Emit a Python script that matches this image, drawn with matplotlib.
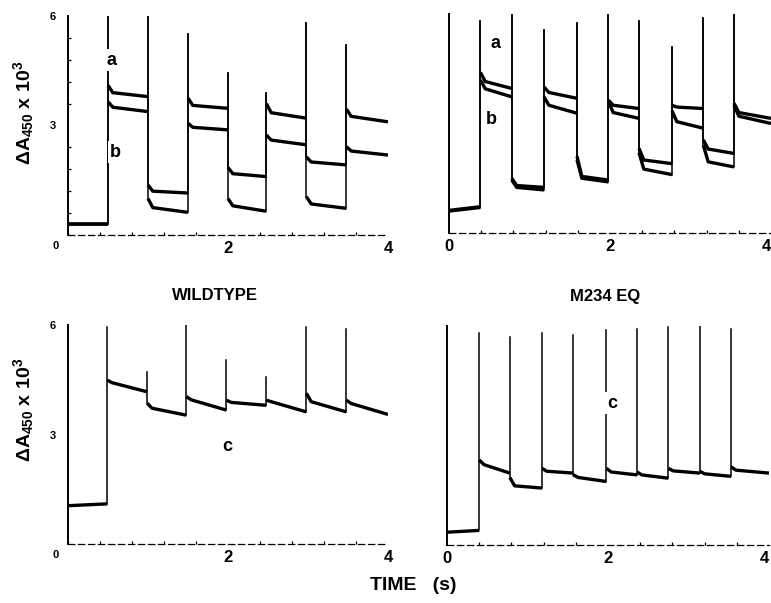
import numpy as np
import matplotlib
matplotlib.use("Agg")
import matplotlib.pyplot as plt
from matplotlib.ticker import MultipleLocator

plt.rcParams['font.family'] = ['Liberation Sans', 'DejaVu Sans']
plt.rcParams['font.weight'] = 'bold'
plt.rcParams['mathtext.fontset'] = 'custom'
plt.rcParams['mathtext.rm'] = 'Liberation Sans:bold'
plt.rcParams['mathtext.it'] = 'Liberation Sans:bold'
plt.rcParams['mathtext.bf'] = 'Liberation Sans:bold'

# ---- wildtype, traces a / b (top left) ----
wt_ab_switch = [0.50, 1.00, 1.50, 2.00, 2.48, 2.98, 3.48]
wt_ab_peak = [6.0, 6.0, 5.5, 4.45, 3.9, 5.8, 5.2]
wt_a_base = [0.30, 0.30]
wt_a_start = [4.10, 1.37, 3.75, 1.85, 3.60, 2.14, 3.45]
wt_a_knee = [3.90, 1.20, 3.55, 1.68, 3.35, 2.00, 3.25]
wt_a_end = [3.79, 1.15, 3.47, 1.60, 3.20, 1.92, 3.10]
wt_b_base = [0.30, 0.30]
wt_b_start = [3.65, 1.00, 3.06, 1.00, 2.74, 1.05, 2.42]
wt_b_knee = [3.50, 0.75, 2.95, 0.80, 2.60, 0.85, 2.30]
wt_b_end = [3.38, 0.62, 2.88, 0.65, 2.47, 0.73, 2.19]

# ---- M234 EQ, traces a / b (top right) ----
mu_ab_switch = [0.39, 0.78, 1.18, 1.59, 1.98, 2.36, 2.77, 3.16, 3.54]
mu_ab_peak = [5.8, 6.0, 5.55, 5.75, 6.0, 5.8, 5.1, 5.9, 6.0]
mu_a_base = [0.62, 0.72]
mu_a_start = [4.40, 1.50, 4.00, 2.10, 3.64, 2.32, 3.50, 2.55, 3.56]
mu_a_knee = [4.15, 1.30, 3.85, 1.55, 3.50, 2.00, 3.45, 2.30, 3.30]
mu_a_end = [3.96, 1.25, 3.69, 1.45, 3.41, 1.90, 3.41, 2.18, 3.14]
mu_b_base = [0.60, 0.70]
mu_b_start = [4.19, 1.45, 3.73, 2.00, 3.60, 2.20, 3.35, 2.40, 3.50]
mu_b_knee = [3.95, 1.25, 3.50, 1.50, 3.30, 1.75, 3.05, 1.95, 3.20]
mu_b_end = [3.73, 1.18, 3.28, 1.40, 3.14, 1.60, 2.87, 1.81, 3.00]

# ---- wildtype, trace c (bottom left) ----
wt_c_switch = [0.49, 0.99, 1.48, 1.98, 2.48, 2.98, 3.48]
wt_c_peak = [5.95, 4.72, 6.0, 5.04, 4.58, 5.95, 5.9]
wt_c_base = [1.05, 1.10]
wt_c_start = [4.49, 3.86, 4.04, 3.94, 3.94, 4.13, 3.94]
wt_c_knee = [4.42, 3.72, 3.95, 3.88, 3.90, 3.90, 3.85]
wt_c_end = [4.17, 3.53, 3.67, 3.80, 3.62, 3.62, 3.55]

# ---- M234 EQ, trace c (bottom right) ----
mu_c_switch = [0.40, 0.78, 1.18, 1.57, 1.98, 2.36, 2.75, 3.14, 3.53]
mu_c_peak = [5.8, 5.7, 5.8, 5.75, 5.9, 5.92, 5.96, 6.0, 5.92]
mu_c_base = [0.35, 0.40]
mu_c_start = [2.33, 1.85, 2.10, 1.92, 2.10, 2.00, 2.10, 2.02, 2.14]
mu_c_knee = [2.20, 1.62, 2.02, 1.85, 2.00, 1.92, 2.03, 1.95, 2.05]
mu_c_end = [1.97, 1.56, 1.97, 1.74, 1.92, 1.83, 1.97, 1.88, 1.97]

T_END = 4.0
KNEE_DT = 0.06


def draw_trace(ax, switch, peak, base, start, knee, end):
    # flat levels as thick segments, flash spikes as thin verticals
    ts = [0.0, switch[0], np.nan]
    vs = [base[0], base[1], np.nan]
    prev = base[1]
    for i, t0 in enumerate(switch):
        t1 = switch[i + 1] if i + 1 < len(switch) else T_END
        ts += [t0, t0 + KNEE_DT, t1, np.nan]
        vs += [start[i], knee[i], end[i], np.nan]
        ax.plot([t0, t0], [min(prev, start[i]), peak[i]], color='black', lw=1.1)
        prev = end[i]
    ax.plot(ts, vs, color='black', lw=2.4, solid_capstyle='butt')


def style_axes(ax, left_panel, y_minor):
    ax.set_xlim(0, 4)
    ax.set_ylim(0, 6)
    for s in ['top', 'right']:
        ax.spines[s].set_visible(False)
    ax.spines['left'].set_linewidth(1.4)
    ax.spines['bottom'].set_linewidth(0.9)
    ax.spines['bottom'].set_linestyle((0, (5, 3)))
    ax.xaxis.set_minor_locator(MultipleLocator(0.4))
    if y_minor:
        ax.yaxis.set_minor_locator(MultipleLocator(0.6))
    ax.tick_params(which='minor', direction='in', length=2.5, width=0.9)
    ax.tick_params(which='major', length=0)
    if left_panel:
        ax.set_xticks([2, 4])
        ax.set_xticklabels(['2', '4'], fontsize=12, fontweight='bold')
        ax.set_yticks([3, 6])
        ax.set_yticklabels(['3', '6'], fontsize=8, fontweight='bold')
        ax.tick_params(axis='y', which='major', pad=9)
        ax.text(-0.16, -0.3, '0', fontsize=8, fontweight='bold', ha='center', va='center')
    else:
        ax.set_xticks([0, 2, 4])
        ax.set_xticklabels(['0', '2', '4'], fontsize=12, fontweight='bold')
        ax.get_xticklabels()[-1].set_horizontalalignment('right')
        ax.set_yticks([])
    ax.tick_params(axis='x', which='major', pad=4)


def label(ax, t, v, s):
    ax.text(t, v, s, fontsize=13, fontweight='bold', ha='center', va='center',
            bbox=dict(facecolor='white', edgecolor='none', pad=1.5), zorder=5)


fig = plt.figure(figsize=(7.71, 6.03), dpi=100)

ax1 = fig.add_axes([0.0882, 0.6103, 0.415, 0.3632])
ax2 = fig.add_axes([0.5824, 0.6136, 0.4176, 0.3632])
ax3 = fig.add_axes([0.0882, 0.0978, 0.415, 0.3632])
ax4 = fig.add_axes([0.5798, 0.0962, 0.4176, 0.3632])

draw_trace(ax1, wt_ab_switch, wt_ab_peak, wt_a_base, wt_a_start, wt_a_knee, wt_a_end)
draw_trace(ax1, wt_ab_switch, wt_ab_peak, wt_b_base, wt_b_start, wt_b_knee, wt_b_end)
draw_trace(ax2, mu_ab_switch, mu_ab_peak, mu_a_base, mu_a_start, mu_a_knee, mu_a_end)
draw_trace(ax2, mu_ab_switch, mu_ab_peak, mu_b_base, mu_b_start, mu_b_knee, mu_b_end)
draw_trace(ax3, wt_c_switch, wt_c_peak, wt_c_base, wt_c_start, wt_c_knee, wt_c_end)
draw_trace(ax4, mu_c_switch, mu_c_peak, mu_c_base, mu_c_start, mu_c_knee, mu_c_end)

style_axes(ax1, True, True)
style_axes(ax2, False, False)
style_axes(ax3, True, False)
style_axes(ax4, False, False)

label(ax1, 0.55, 4.79, 'a')
label(ax1, 0.59, 2.27, 'b')
label(ax2, 0.58, 5.20, 'a')
label(ax2, 0.53, 3.10, 'b')
label(ax3, 1.99, 2.66, 'c')
label(ax4, 2.05, 3.89, 'c')

ylab = r'$\Delta$A$_{450}$ x 10$^{3}$'
fig.text(24 / 771, 1 - 113 / 603, ylab, rotation=90, fontsize=14, ha='center', va='center')
fig.text(24 / 771, 1 - 410 / 603, ylab, rotation=90, fontsize=14, ha='center', va='center')

fig.text(215 / 771, 1 - 296 / 603, 'WILDTYPE', fontsize=12, fontweight='bold', ha='center', va='center')
fig.text(605 / 771, 1 - 296 / 603, 'M234 EQ', fontsize=12, fontweight='bold', ha='center', va='center')
fig.text(413 / 771, 1 - 585 / 603, 'TIME   (s)', fontsize=14, fontweight='bold', ha='center', va='center')

fig.savefig('out.png', dpi=100)
